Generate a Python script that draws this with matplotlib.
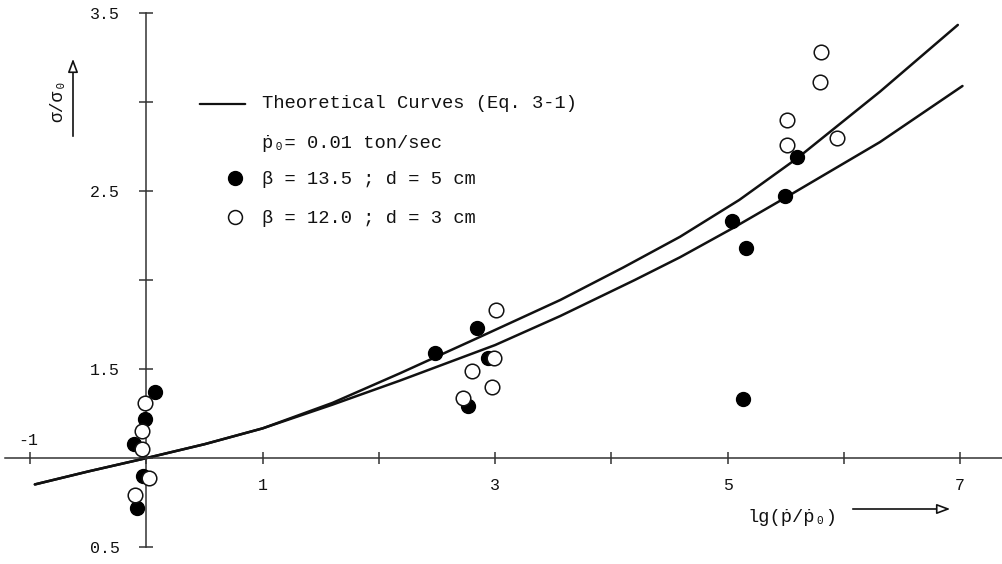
import matplotlib
matplotlib.use('Agg')
import matplotlib.pyplot as plt

# measured points, lg(p/p0) vs sigma/sigma0
filled_x = [0.07, -0.01, -0.11, -0.03, -0.08, 2.48, 2.84, 2.94, 2.77, 5.60, 5.49, 5.04, 5.16, 5.13]
filled_y = [1.37, 1.22, 1.08, 0.90, 0.72, 1.59, 1.73, 1.56, 1.29, 2.69, 2.47, 2.33, 2.18, 1.33]
open_x = [-0.01, -0.04, -0.04, 0.02, -0.10, 3.01, 2.99, 2.80, 2.97, 2.72, 5.80, 5.79, 5.51, 5.51, 5.94]
open_y = [1.31, 1.15, 1.05, 0.89, 0.79, 1.83, 1.56, 1.49, 1.40, 1.34, 3.28, 3.11, 2.90, 2.76, 2.80]

# theoretical curves (Eq. 3-1)
upper_x = [-0.96, -0.5, 0.0, 0.5, 1.0, 1.6, 2.18, 2.8, 3.56, 4.1, 4.59, 5.1, 5.6, 6.31, 6.98]
upper_y = [0.852, 0.925, 1.0, 1.078, 1.167, 1.31, 1.476, 1.66, 1.888, 2.07, 2.243, 2.45, 2.685, 3.058, 3.433]
lower_x = [-0.96, -0.5, 0.0, 0.5, 1.0, 1.6, 2.18, 3.0, 3.56, 4.2, 4.59, 5.04, 5.49, 6.31, 7.02]
lower_y = [0.852, 0.925, 1.0, 1.078, 1.167, 1.30, 1.435, 1.635, 1.798, 2.0, 2.128, 2.29, 2.46, 2.775, 3.09]

x_ticks = [-1, 0, 1, 2, 3, 4, 5, 6, 7]
x_labels = ['', '', '1', '', '3', '', '5', '', '7']
y_ticks = [0.5, 1.0, 1.5, 2.0, 2.5, 3.0, 3.5]
y_labels = ['0.5', '', '1.5', '', '2.5', '', '3.5']

MONO = ['Liberation Mono', 'DejaVu Sans Mono']
INK = '#111111'
W, H = 1002, 564

fig = plt.figure(figsize=(W / 100, H / 100), dpi=100, facecolor='white')
ax = fig.add_axes([0, 0, 1, 1])
ax.set_xlim(-1.26, 7.36)
ax.set_ylim(0.405, 3.573)
ax.patch.set_visible(False)

for side in ['top', 'right']:
    ax.spines[side].set_visible(False)
ax.spines['left'].set_position(('data', 0))
ax.spines['left'].set_bounds(0.5, 3.5)
ax.spines['bottom'].set_position(('data', 1.0))
ax.spines['bottom'].set_bounds(-1.22, 7.36)
for side in ['left', 'bottom']:
    ax.spines[side].set_linewidth(1.1)
    ax.spines[side].set_color('#333333')

ax.set_xticks(x_ticks)
ax.set_xticklabels(x_labels, family=MONO, fontsize=12)
ax.set_yticks(y_ticks)
ax.set_yticklabels(y_labels, family=MONO, fontsize=12)
ax.tick_params(axis='x', direction='inout', length=8, width=1.1, pad=10, colors='#333333', labelcolor=INK)
ax.tick_params(axis='y', direction='inout', length=10, width=1.1, pad=14, colors='#333333', labelcolor=INK)
ax.text(-1.02, 1.10, '-1', family=MONO, fontsize=12, color=INK, ha='center', va='center')

ax.plot(upper_x, upper_y, color=INK, lw=1.8, solid_capstyle='round', solid_joinstyle='round', zorder=2)
ax.plot(lower_x, lower_y, color=INK, lw=1.8, solid_capstyle='round', solid_joinstyle='round', zorder=2)
ax.plot(filled_x, filled_y, 'o', ms=10, mfc='black', mec='black', zorder=3)
ax.plot(open_x, open_y, 'o', ms=10.5, mfc='white', mec=INK, mew=1.1, zorder=4)

# legend block
ax.annotate('', xy=(248, H - 104), xytext=(197, H - 104), xycoords='figure pixels',
            arrowprops=dict(arrowstyle='-', lw=1.6, color=INK))
legend_rows = [(104, 'Theoretical Curves (Eq. 3-1)'),
               (143, '\u1e57\u2080= 0.01 ton/sec'),
               (180, '\u03b2 = 13.5 ; d = 5 cm'),
               (218, '\u03b2 = 12.0 ; d = 3 cm')]
for py, txt in legend_rows:
    fig.text(262 / W, 1 - py / H, txt, family=MONO, fontsize=13.5, color=INK, va='center')
fig.lines.append(plt.Line2D([235 / W], [1 - 178 / H], transform=fig.transFigure,
                            marker='o', ms=10, mfc='black', mec='black', ls='none'))
fig.lines.append(plt.Line2D([235 / W], [1 - 217 / H], transform=fig.transFigure,
                            marker='o', ms=10, mfc='white', mec=INK, mew=1.1, ls='none'))

# axis titles with arrows
fig.text(58 / W, 1 - 101 / H, '\u03c3/\u03c3\u2080', family=MONO, fontsize=13,
         rotation=90, color=INK, ha='center', va='center')
ax.annotate('', xy=(73, H - 56), xytext=(73, H - 139), xycoords='figure pixels',
            arrowprops=dict(arrowstyle='-|>,head_length=0.8,head_width=0.3', lw=1.2,
                            fc='white', ec=INK))
fig.text(748 / W, 1 - 518 / H, 'lg(\u1e57/\u1e57\u2080)', family=MONO, fontsize=13.5,
         color=INK, va='center')
ax.annotate('', xy=(953, H - 509), xytext=(850, H - 509), xycoords='figure pixels',
            arrowprops=dict(arrowstyle='-|>,head_length=0.8,head_width=0.3', lw=1.2,
                            fc='white', ec=INK))

fig.savefig('out.png', dpi=100, facecolor='white')
